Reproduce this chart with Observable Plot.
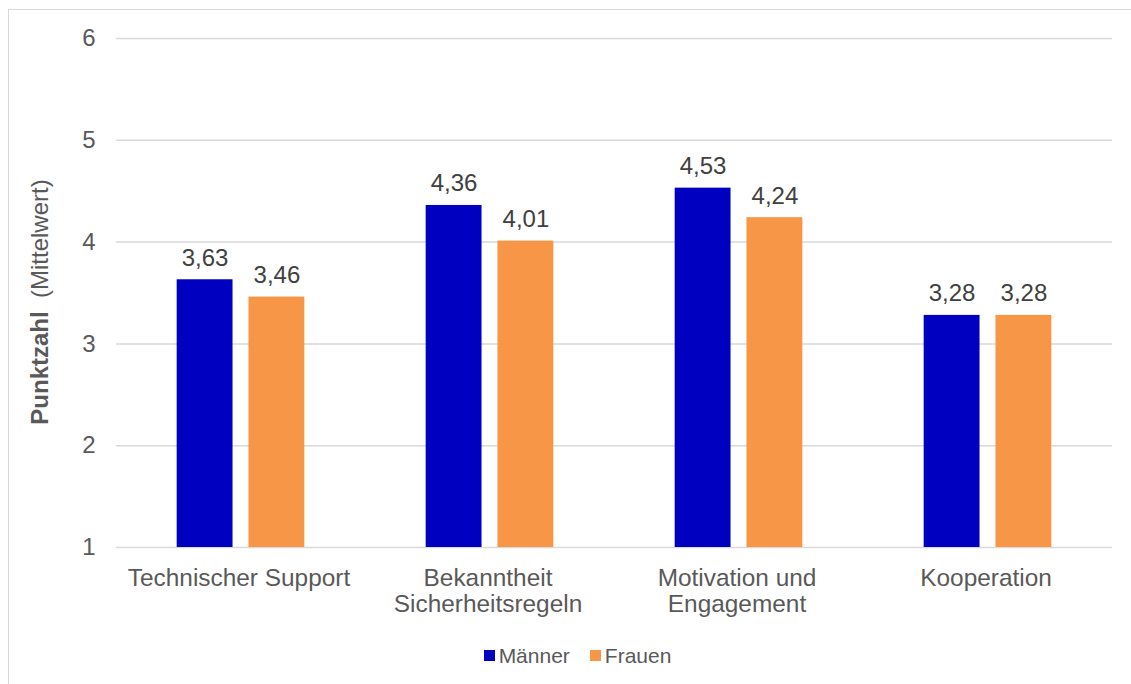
<!DOCTYPE html>
<html>
<head>
<meta charset="utf-8">
<script src="https://cdn.jsdelivr.net/npm/d3@7"></script>
<script src="https://cdn.jsdelivr.net/npm/@observablehq/plot@0.6"></script>
<style>
  html, body { margin: 0; padding: 0; background: #fff; }
  #wrap { position: relative; width: 1131px; height: 684px; overflow: hidden; font-family: "Liberation Sans", Arial, sans-serif; }
  #frame { position: absolute; left: 8px; top: 9px; right: -2px; bottom: -2px; border-left: 1.5px solid #d9d9d9; border-top: 1.5px solid #d9d9d9; }
  #chart { position: absolute; left: 0; top: 0; }
  #legend { position: absolute; left: 12px; width: 1131px; top: 642px; text-align: center; font-size: 21px; color: #595959; }
  #legend span.item { display: inline-flex; align-items: center; margin: 0 10px; }
  #legend span.sw { display: inline-block; width: 11px; height: 11px; margin-right: 4px; }
</style>
</head>
<body>
<div id="wrap">
  <div id="frame"></div>
  <div id="chart"></div>
  <div id="legend"></div>
</div>
<script>
const categories = ["Technischer Support", "Bekanntheit\nSicherheitsregeln", "Motivation und\nEngagement", "Kooperation"];
const groups = ["Männer", "Frauen"];
const maenner = [3.63, 4.36, 4.53, 3.28];
const frauen = [3.46, 4.01, 4.24, 3.28];
const colors = ["#0000C0", "#F79646"];
const yTicks = [1, 2, 3, 4, 5, 6];

const data = [];
categories.forEach((c, i) => {
  data.push({cat: c, g: groups[0], v: maenner[i]});
  data.push({cat: c, g: groups[1], v: frauen[i]});
});
const fmt = v => v.toFixed(2).replace(".", ",");

const plot = Plot.plot({
  width: 1131,
  height: 630,
  marginTop: 38,
  marginBottom: 83,
  marginLeft: 114,
  marginRight: 18,
  style: {fontFamily: "'Liberation Sans', Arial, sans-serif", background: "transparent", color: "#595959"},
  fx: {domain: categories, padding: 0, label: null},
  x: {domain: groups, paddingInner: 0.222, paddingOuter: 0.845, round: false, axis: null},
  y: {domain: [1, 6], label: null},
  color: {domain: groups, range: colors},
  marks: [
    Plot.ruleY(yTicks, {stroke: "#d9d9d9", strokeWidth: 1.5}),
    Plot.barY(data, {fx: "cat", x: "g", y1: 1, y2: "v", fill: "g"}),
    Plot.text(data, {fx: "cat", x: "g", y: "v", text: d => fmt(d.v), lineAnchor: "bottom", dy: -14, fontSize: 24, fill: "#404040"}),
    Plot.axisY({ticks: yTicks, tickSize: 0, tickPadding: 21, fontSize: 24, label: null, tickFormat: d => String(d)}),
    Plot.axisFx({anchor: "bottom", tickSize: 0, tickPadding: 20, fontSize: 24.4, lineHeight: 1.07, label: null, dx: -2})
  ]
});
const svg = d3.select(plot);
const t = svg.append("text")
  .attr("transform", "translate(40,302) rotate(-90)")
  .attr("text-anchor", "middle")
  .attr("dy", "0.35em")
  .attr("font-size", 24)
  .attr("fill", "#595959");
t.append("tspan").attr("font-weight", "bold").text("Punktzahl");
t.append("tspan").text("\u00a0 (Mittelwert)");
document.getElementById("chart").appendChild(plot);

const legend = document.getElementById("legend");
groups.forEach((g, i) => {
  const item = document.createElement("span");
  item.className = "item";
  const sw = document.createElement("span");
  sw.className = "sw";
  sw.style.background = colors[i];
  item.appendChild(sw);
  item.appendChild(document.createTextNode(g));
  legend.appendChild(item);
});
</script>
</body>
</html>
